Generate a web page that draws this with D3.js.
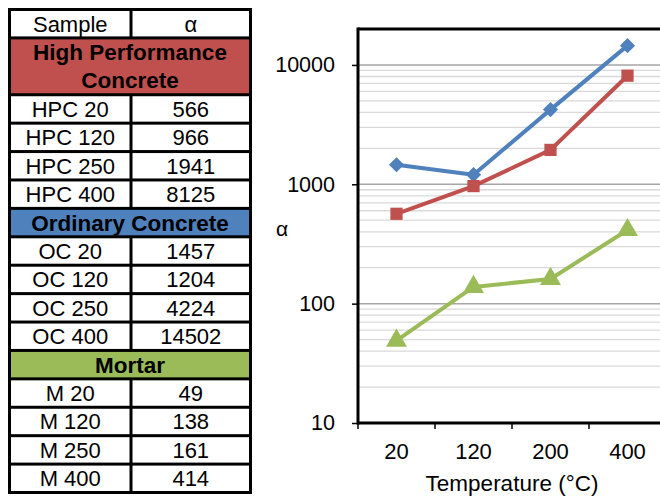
<!DOCTYPE html>
<html>
<head>
<meta charset="utf-8">
<script src="https://cdn.jsdelivr.net/npm/d3@7"></script>
<style>
  html, body { margin: 0; padding: 0; background: #ffffff; }
  svg { display: block; font-family: "Liberation Sans", Arial, sans-serif; }
</style>
</head>
<body>
<svg id="chart" width="660" height="497"></svg>
<script>
// ---- data ----
const temperatures = ["20", "120", "200", "400"];
const sampleTemps = ["20", "120", "250", "400"];
const groupNames = ["High Performance Concrete", "Ordinary Concrete", "Mortar"];
const groupHeaderLines = [["High Performance", "Concrete"], ["Ordinary Concrete"], ["Mortar"]];
const groupPrefixes = ["HPC", "OC", "M"];
const hpcValues = [566, 966, 1941, 8125];
const ocValues = [1457, 1204, 4224, 14502];
const mortarValues = [49, 138, 161, 414];
const yTicks = [10, 100, 1000, 10000];
const groupColors = ["#C0504D", "#4F81BD", "#9BBB59"];

const svg = d3.select("#chart");

// ---- table ----
const tableValues = [hpcValues, ocValues, mortarValues];
const rows = [];
rows.push({type: "head", span: 1, cells: ["Sample", "α"]});
groupNames.forEach((g, gi) => {
  rows.push({type: "group", span: groupHeaderLines[gi].length, lines: groupHeaderLines[gi], color: groupColors[gi]});
  sampleTemps.forEach((t, ti) => {
    rows.push({type: "data", span: 1, cells: [groupPrefixes[gi] + " " + t, String(tableValues[gi][ti])]});
  });
});
let unit = 0;
rows.forEach(r => { r.start = unit; unit += r.span; });
const totalUnits = unit;

const tLeft = 8, tRight = 252, tTop = 8, tBottom = 494, gap = 3, colDiv = 129.5;
const rowY = d3.scaleLinear().domain([0, totalUnits]).range([tTop + gap, tBottom]);
const table = svg.append("g");
table.append("rect").attr("x", tLeft).attr("y", tTop)
  .attr("width", tRight - tLeft).attr("height", tBottom - tTop).attr("fill", "#000");

rows.forEach(r => {
  const y0 = rowY(r.start), y1 = rowY(r.start + r.span) - gap;
  const cy = (y0 + y1) / 2;
  if (r.type === "group") {
    table.append("rect").attr("x", tLeft + gap).attr("y", y0)
      .attr("width", tRight - tLeft - 2 * gap).attr("height", y1 - y0).attr("fill", r.color);
    const lh = 28;
    r.lines.forEach((ln, li) => {
      table.append("text")
        .attr("x", (tLeft + tRight) / 2)
        .attr("y", cy + (li - (r.lines.length - 1) / 2) * lh)
        .attr("dy", "0.36em")
        .attr("text-anchor", "middle")
        .attr("font-size", 22.5).attr("font-weight", "bold").attr("fill", "#000")
        .text(ln);
    });
  } else {
    const cols = [[tLeft + gap, colDiv], [colDiv + gap, tRight - gap]];
    cols.forEach((c, ci) => {
      table.append("rect").attr("x", c[0]).attr("y", y0)
        .attr("width", c[1] - c[0]).attr("height", y1 - y0).attr("fill", "#fff");
      table.append("text")
        .attr("x", (c[0] + c[1]) / 2).attr("y", cy).attr("dy", "0.36em")
        .attr("text-anchor", "middle").attr("font-size", 22).attr("fill", "#000")
        .text(r.cells[ci]);
    });
  }
});

// ---- chart ----
const plotLeft = 358, plotRight = 666, plotTop = 29, plotBottom = 423;
const x = d3.scaleBand().domain(temperatures).range([plotLeft, plotRight]).padding(0);
const y = d3.scaleLog().domain([10, 20000]).range([plotBottom, plotTop]);

const chart = svg.append("g");
// minor gridlines
const minor = [];
[10, 100, 1000, 10000].forEach(d => { for (let k = 2; k <= 9; k++) { const v = d * k; if (v < 20000) minor.push(v); } });
chart.selectAll(".minor").data(minor).enter().append("line")
  .attr("x1", plotLeft).attr("x2", plotRight)
  .attr("y1", d => y(d)).attr("y2", d => y(d))
  .attr("stroke", "#d9d9d9").attr("stroke-width", 1.3);
chart.selectAll(".major").data(yTicks.slice(1)).enter().append("line")
  .attr("x1", plotLeft).attr("x2", plotRight)
  .attr("y1", d => y(d)).attr("y2", d => y(d))
  .attr("stroke", "#a6a6a6").attr("stroke-width", 1.5);

// y axis
const yAxis = d3.axisLeft(y).tickValues(yTicks).tickFormat(d3.format("d")).tickSize(6).tickPadding(17);
const yg = chart.append("g").attr("transform", `translate(${plotLeft},0)`).call(yAxis);
yg.select(".domain").remove();
yg.selectAll(".tick line").attr("stroke", "#000").attr("stroke-width", 1.5);
yg.selectAll(".tick text").attr("font-size", 21.5).attr("fill", "#000").attr("font-family", "Liberation Sans, Arial, sans-serif");

// x axis
const xAxis = d3.axisBottom(x).tickSize(0).tickPadding(20);
const xg = chart.append("g").attr("transform", `translate(0,${plotBottom})`).call(xAxis);
xg.select(".domain").remove();
xg.selectAll(".tick text").attr("font-size", 22).attr("fill", "#000").attr("font-family", "Liberation Sans, Arial, sans-serif");
chart.selectAll(".xtick").data(temperatures).enter().append("line")
  .attr("x1", d => x(d)).attr("x2", d => x(d))
  .attr("y1", plotBottom).attr("y2", plotBottom + 6)
  .attr("stroke", "#000").attr("stroke-width", 1.5);

// frame
chart.append("line").attr("x1", plotLeft).attr("x2", plotRight).attr("y1", plotTop).attr("y2", plotTop)
  .attr("stroke", "#000").attr("stroke-width", 3);
chart.append("line").attr("x1", plotLeft).attr("x2", plotRight).attr("y1", plotBottom).attr("y2", plotBottom)
  .attr("stroke", "#000").attr("stroke-width", 3);
chart.append("line").attr("x1", plotLeft).attr("x2", plotLeft).attr("y1", plotTop - 1.5).attr("y2", plotBottom + 1.5)
  .attr("stroke", "#000").attr("stroke-width", 3);

// series
const cx = d => x(d) + x.bandwidth() / 2;
const series = [
  {values: ocValues, color: groupColors[1], symbol: d3.symbolSquare, size: 115, rot: 45},
  {values: hpcValues, color: groupColors[0], symbol: d3.symbolSquare, size: 150, rot: 0},
  {values: mortarValues, color: groupColors[2], symbol: d3.symbolTriangle, size: 190, rot: 0}
];
const line = d3.line().x((d, i) => cx(temperatures[i])).y(d => y(d));
series.forEach(s => {
  chart.append("path").attr("d", line(s.values)).attr("fill", "none")
    .attr("stroke", s.color).attr("stroke-width", 4).attr("stroke-linejoin", "round");
  chart.selectAll(null).data(s.values).enter().append("path")
    .attr("d", d3.symbol().type(s.symbol).size(s.size))
    .attr("transform", (d, i) => `translate(${cx(temperatures[i])},${y(d)}) rotate(${s.rot})`)
    .attr("fill", s.color);
});

// axis titles
svg.append("text").attr("x", 282).attr("y", 228).attr("dy", "0.36em").attr("text-anchor", "middle")
  .attr("font-size", 21).attr("fill", "#000").text("α");
svg.append("text").attr("x", 512).attr("y", 483).attr("dy", "0.36em").attr("text-anchor", "middle")
  .attr("font-size", 22.5).attr("fill", "#000").text("Temperature (°C)");
</script>
</body>
</html>
